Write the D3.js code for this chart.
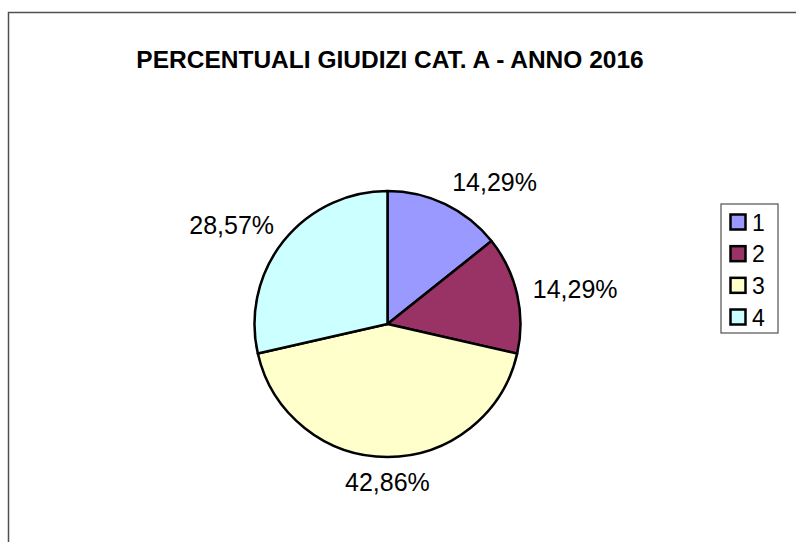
<!DOCTYPE html>
<html>
<head>
<meta charset="utf-8">
<script src="https://cdn.jsdelivr.net/npm/d3@7"></script>
<style>
  body { margin: 0; background: #fff; }
  text { font-family: "Liberation Sans", Arial, sans-serif; }
</style>
</head>
<body>
<div id="chart"></div>
<script>
// Chart data
const categories = ["1", "2", "3", "4"];
const percentages = [14.29, 14.29, 42.86, 28.57];
const sliceColors = ["#9999ff", "#993366", "#ffffcc", "#ccffff"];
const chartTitle = "PERCENTUALI GIUDIZI CAT. A - ANNO 2016";

const width = 796;
const height = 542;

const svg = d3.select("#chart")
  .append("svg")
  .attr("width", width)
  .attr("height", height);

// Chart area border (runs off the right and bottom edges)
svg.append("rect")
  .attr("x", 8.5)
  .attr("y", 12.5)
  .attr("width", 820)
  .attr("height", 600)
  .attr("fill", "none")
  .attr("stroke", "#505050")
  .attr("stroke-width", 1.5);

// Title
svg.append("text")
  .attr("x", 390)
  .attr("y", 68)
  .attr("text-anchor", "middle")
  .style("font-size", "24.5px")
  .style("font-weight", "bold")
  .text(chartTitle);

// Pie
const cx = 387.5, cy = 324, radius = 133;
const data = categories.map((c, i) => ({ cat: c, value: percentages[i] }));

const pie = d3.pie().sort(null).value(d => d.value);
const arc = d3.arc().innerRadius(0).outerRadius(radius);
const arcs = pie(data);

const color = d3.scaleOrdinal().domain(categories).range(sliceColors);

const g = svg.append("g").attr("transform", `translate(${cx},${cy})`);

g.selectAll("path")
  .data(arcs)
  .enter()
  .append("path")
  .attr("d", arc)
  .attr("fill", d => color(d.data.cat))
  .attr("stroke", "#000")
  .attr("stroke-width", 2.5)
  .attr("stroke-linejoin", "round");

// Labels: put the label box's nearest edge on a ray through the slice middle
const it = d3.formatLocale({ decimal: ",", thousands: ".", grouping: [3], currency: ["", "€"] });
const fmt = it.format(".2f");
const labelSize = 25;
const capH = labelSize * 0.716;
const labelDist = radius + 16;

g.selectAll("text.lbl")
  .data(arcs)
  .enter()
  .append("text")
  .attr("class", "lbl")
  .style("font-size", labelSize + "px")
  .attr("text-anchor", d => {
    const s = Math.sin((d.startAngle + d.endAngle) / 2);
    return s > 0.1 ? "start" : (s < -0.1 ? "end" : "middle");
  })
  .attr("x", d => {
    const a = (d.startAngle + d.endAngle) / 2;
    return labelDist * Math.sin(a) + (Math.sin(a) < -0.1 ? 3 : 0);
  })
  .attr("y", d => {
    const a = (d.startAngle + d.endAngle) / 2;
    const py = -labelDist * Math.cos(a);
    const centerY = py - (capH / 2) * Math.cos(a);
    return centerY + capH / 2;
  })
  .text(d => fmt(d.data.value) + "%");

// Legend
const legend = svg.append("g");
legend.append("rect")
  .attr("x", 721)
  .attr("y", 204)
  .attr("width", 57)
  .attr("height", 129)
  .attr("fill", "#fff")
  .attr("stroke", "#505050")
  .attr("stroke-width", 1.2);

const ly = d3.scalePoint().domain(categories).range([222, 317]);

const items = legend.selectAll("g.item")
  .data(categories)
  .enter()
  .append("g")
  .attr("class", "item")
  .attr("transform", d => `translate(0,${ly(d)})`);

items.append("rect")
  .attr("x", 730.5)
  .attr("y", -7.5)
  .attr("width", 15)
  .attr("height", 15)
  .attr("fill", d => color(d))
  .attr("stroke", "#000")
  .attr("stroke-width", 2.5);

items.append("text")
  .attr("x", 752)
  .attr("y", 8.5)
  .style("font-size", "23px")
  .text(d => d);
</script>
</body>
</html>
